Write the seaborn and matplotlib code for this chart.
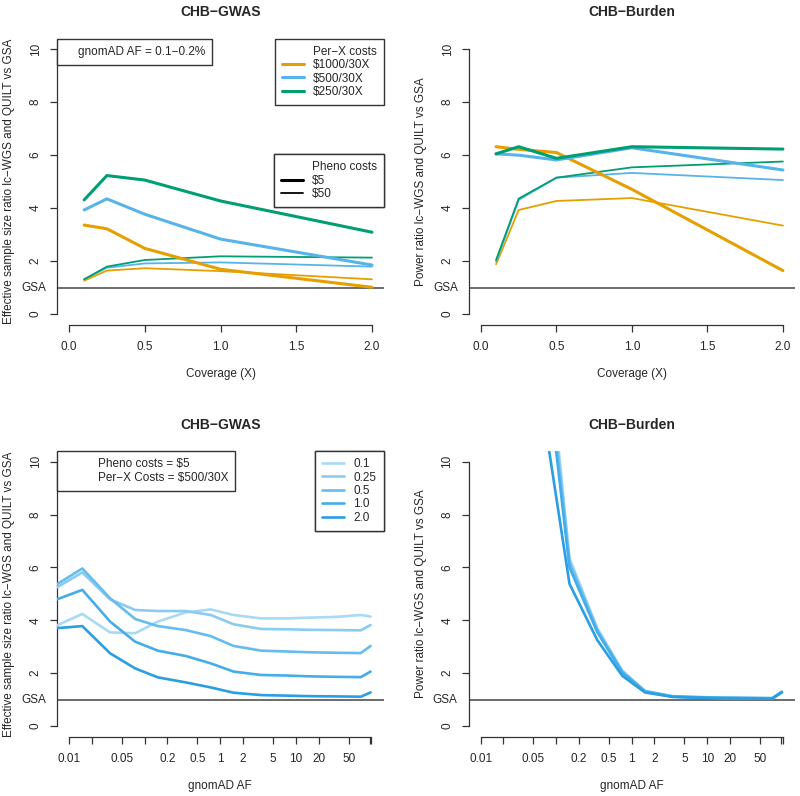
import numpy as np
import pandas as pd
import matplotlib
matplotlib.use('Agg')
import matplotlib.pyplot as plt
from matplotlib.lines import Line2D
from matplotlib.ticker import NullLocator
import seaborn as sns

sns.set_style('ticks')
plt.rcParams['font.family'] = ['Liberation Sans', 'DejaVu Sans']

# ---------------- data ----------------
coverage = [0.1, 0.25, 0.5, 1.0, 2.0]
perx_labels = ['$1000/30X', '$500/30X', '$250/30X']
perx_colors = ['#E69F00', '#56B4E9', '#009E73']

# GWAS, effective sample size ratio
gwas_pheno5 = [[3.36, 3.22, 2.48, 1.69, 1.01],
               [3.93, 4.35, 3.77, 2.83, 1.85],
               [4.31, 5.23, 5.06, 4.27, 3.09]]
gwas_pheno50 = [[1.26, 1.64, 1.73, 1.62, 1.31],
                [1.31, 1.75, 1.91, 1.95, 1.79],
                [1.31, 1.79, 2.04, 2.18, 2.13]]

# Burden, power ratio
burden_pheno5 = [[6.32, 6.22, 6.10, 4.71, 1.64],
                 [6.05, 6.00, 5.82, 6.28, 5.44],
                 [6.05, 6.32, 5.88, 6.32, 6.23]]
burden_pheno50 = [[1.88, 3.93, 4.27, 4.38, 3.34],
                  [1.98, 4.31, 5.15, 5.33, 5.06],
                  [2.04, 4.36, 5.15, 5.54, 5.76]]

# bottom row: by allele frequency bin (%), Pheno $5, per-X $500/30X
af_mid = [0.005, 0.015, 0.035, 0.075, 0.15, 0.35, 0.75, 1.5, 3.5, 7.5, 15, 35, 72.5, 97.5]
af_ticks = [0.01, 0.02, 0.05, 0.1, 0.2, 0.5, 1, 2, 5, 10, 20, 50, 95, 100]
af_ticklabels = ['0.01', '', '0.05', '', '0.2', '0.5', '1', '2', '5', '10', '20', '50', '', '']
cov_labels = ['0.1', '0.25', '0.5', '1.0', '2.0']
cov_colors = ['#a9daf5', '#89cbf1', '#66bcee', '#45ade9', '#2a9de3']

gwas_af = [[3.62, 4.24, 3.54, 3.51, 3.95, 4.30, 4.41, 4.20, 4.07, 4.07, 4.10, 4.13, 4.20, 4.14],
           [5.01, 5.81, 4.79, 4.39, 4.35, 4.35, 4.20, 3.85, 3.67, 3.66, 3.64, 3.63, 3.62, 3.82],
           [5.11, 5.96, 4.83, 4.05, 3.78, 3.63, 3.40, 3.03, 2.85, 2.82, 2.79, 2.77, 2.76, 3.03],
           [4.64, 5.15, 3.95, 3.19, 2.85, 2.65, 2.37, 2.06, 1.93, 1.91, 1.88, 1.86, 1.85, 2.06],
           [3.67, 3.78, 2.75, 2.18, 1.84, 1.65, 1.46, 1.26, 1.17, 1.15, 1.13, 1.12, 1.11, 1.27]]
burden_af = [[60, 40, 22, 15.0, 6.35, 3.70, 2.10, 1.33, 1.13, 1.10, 1.08, 1.07, 1.06, 1.30],
             [58, 38, 21, 14.5, 6.25, 3.66, 2.07, 1.32, 1.12, 1.09, 1.07, 1.06, 1.05, 1.29],
             [55, 36, 20, 14.0, 6.15, 3.62, 2.05, 1.31, 1.12, 1.09, 1.07, 1.06, 1.05, 1.29],
             [52, 34, 19, 13.5, 6.00, 3.55, 2.02, 1.30, 1.11, 1.08, 1.06, 1.05, 1.04, 1.28],
             [40, 28, 16, 11.0, 5.38, 3.25, 1.90, 1.27, 1.10, 1.07, 1.05, 1.04, 1.03, 1.28]]

# ---------------- figure ----------------
W, H = 800, 796
fig = plt.figure(figsize=(W / 100, H / 100), dpi=100)
FS = 8.5
AXC = '#333333'


def make_ax(l, r, t, b):
    return fig.add_axes([l / W, 1 - b / H, (r - l) / W, (b - t) / H])


def style_ax(ax, title, ylabel, xlabel):
    ax.set_ylim(-0.4, 10.4)
    ax.set_yticks([0, 2, 4, 6, 8, 10])
    ax.spines['top'].set_visible(False)
    ax.spines['right'].set_visible(False)
    ax.spines['left'].set_bounds(0, 10)
    for s in ['left', 'bottom']:
        ax.spines[s].set_color(AXC)
        ax.spines[s].set_linewidth(0.9)
    ax.tick_params(direction='out', length=5, width=0.9, color=AXC, labelsize=FS)
    ax.tick_params(axis='y', labelrotation=90, pad=6)
    ax.tick_params(axis='x', pad=7)
    for lab in ax.get_yticklabels():
        lab.set_va('center')
    ax.set_title(title, fontsize=10, fontweight='bold', pad=16)
    ax.set_ylabel(ylabel, fontsize=FS)
    ax.set_xlabel(xlabel, fontsize=FS)
    bb = ax.get_position()
    wpx, hpx = bb.width * W, bb.height * H
    ax.yaxis.set_label_coords(-42 / wpx, 0.5)
    ax.xaxis.set_label_coords(0.5, -43 / hpx)
    ax.axhline(1, color='#444444', lw=1.1, zorder=1)
    ax.annotate('GSA', xy=(0, 1), xycoords=('axes fraction', 'data'),
                xytext=(-11, 0), textcoords='offset pixels',
                ha='right', va='center', fontsize=FS, annotation_clip=False)
    ax.grid(False)


def box_legend(ax, handles, labels, loc, anchor, hl=1.85, htp=0.8):
    leg = ax.legend(handles, labels, loc=loc, bbox_to_anchor=anchor,
                    borderaxespad=0, fontsize=FS, frameon=True, fancybox=False,
                    framealpha=1, edgecolor=AXC, handlelength=hl,
                    handletextpad=htp, borderpad=0.6, labelspacing=0.12)
    leg.get_frame().set_linewidth(1.0)
    ax.add_artist(leg)
    return leg


blank = Line2D([], [], color='none')
THICK, THIN = 2.2, 1.3


def coverage_panel(ax, thin_vals, thick_vals):
    for vals, color in zip(thin_vals, perx_colors):
        sns.lineplot(x=coverage, y=vals, ax=ax, color=color, linewidth=THIN,
                     estimator=None, sort=False, legend=False, zorder=3)
    for vals, color in zip(thick_vals, perx_colors):
        sns.lineplot(x=coverage, y=vals, ax=ax, color=color, linewidth=THICK,
                     estimator=None, sort=False, legend=False, zorder=4)
    ax.set_xlim(-0.08, 2.08)
    ax.set_xticks([0, 0.5, 1, 1.5, 2])
    ax.set_xticklabels(['0.0', '0.5', '1.0', '1.5', '2.0'])
    ax.spines['bottom'].set_bounds(0, 2)


def af_panel(ax, series):
    for vals, color in zip(series, cov_colors):
        sns.lineplot(x=af_mid, y=vals, ax=ax, color=color, linewidth=1.9,
                     estimator=None, sort=False, legend=False, zorder=3)
    ax.set_xscale('log')
    ax.set_xlim(10 ** -2.16, 10 ** 2.16)
    ax.set_xticks(af_ticks)
    ax.set_xticklabels(af_ticklabels)
    ax.xaxis.set_minor_locator(NullLocator())
    ax.spines['bottom'].set_bounds(0.01, 100)


ylab_gwas = 'Effective sample size ratio lc\u2212WGS and QUILT vs GSA'
ylab_burden = 'Power ratio lc\u2212WGS and QUILT vs GSA'

# top left
ax1 = make_ax(56.9, 384.1, 38.7, 324.6)
coverage_panel(ax1, gwas_pheno50, gwas_pheno5)
style_ax(ax1, 'CHB\u2212GWAS', ylab_gwas, 'Coverage (X)')
box_legend(ax1, [blank], ['gnomAD AF = 0.1\u22120.2%'], 'upper left', (0, 1), hl=0.9, htp=0.25)
box_legend(ax1, [blank] + [Line2D([], [], color=c, lw=THICK) for c in perx_colors],
           ['Per\u2212X costs'] + perx_labels, 'upper right', (1, 1))
box_legend(ax1, [blank, Line2D([], [], color='black', lw=THICK), Line2D([], [], color='black', lw=THIN)],
           ['Pheno costs', '$5', '$50'], 'upper right', (1, 0.5957))

# top right
ax2 = make_ax(468.9, 795.0, 38.7, 324.6)
coverage_panel(ax2, burden_pheno50, burden_pheno5)
style_ax(ax2, 'CHB\u2212Burden', ylab_burden, 'Coverage (X)')

# bottom left
ax3 = make_ax(56.9, 383.5, 451.1, 736.6)
af_panel(ax3, gwas_af)
style_ax(ax3, 'CHB\u2212GWAS', ylab_gwas, 'gnomAD AF')
box_legend(ax3, [blank, blank], ['Pheno costs = $5', 'Per\u2212X Costs = $500/30X'],
           'upper left', (0, 1), hl=2.0, htp=0.85)
box_legend(ax3, [Line2D([], [], color=c, lw=1.9) for c in cov_colors], cov_labels,
           'upper right', (1, 1))

# bottom right
ax4 = make_ax(468.6, 794.8, 451.1, 736.6)
af_panel(ax4, burden_af)
style_ax(ax4, 'CHB\u2212Burden', ylab_burden, 'gnomAD AF')

fig.savefig('out.png', dpi=100)
